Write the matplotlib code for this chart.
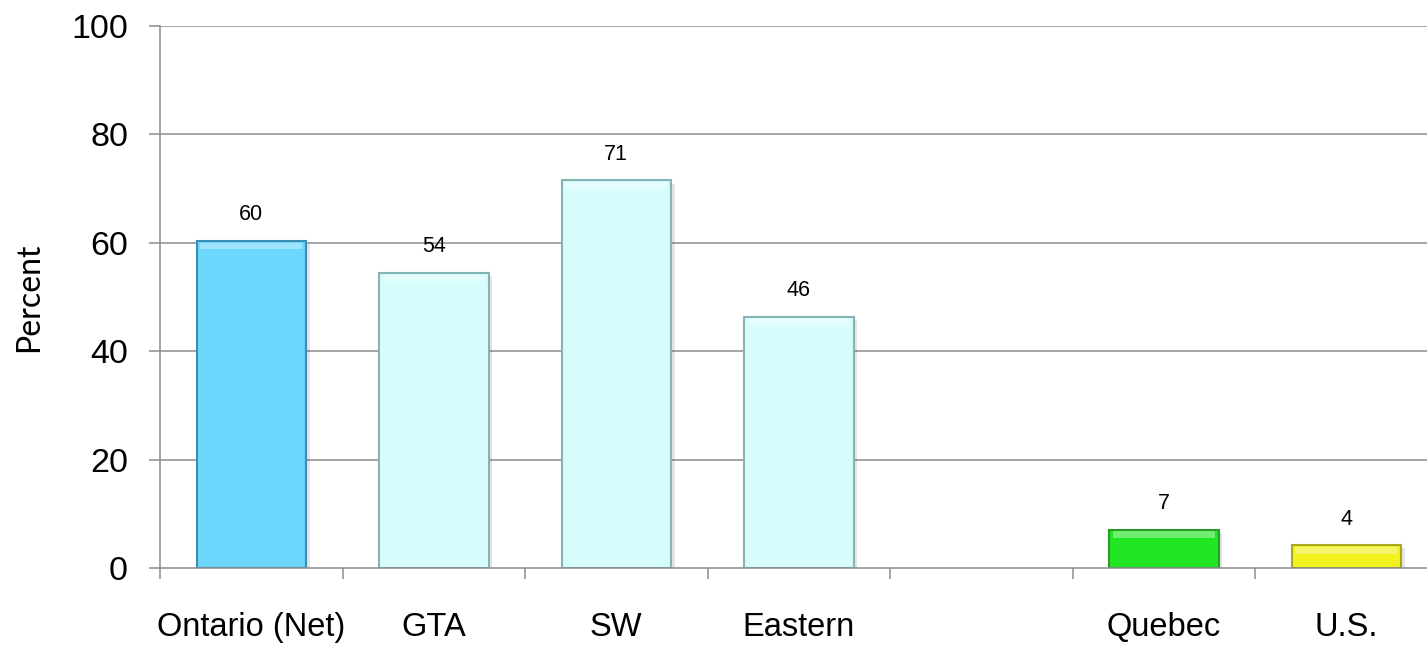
import matplotlib
matplotlib.use("Agg")
import matplotlib.pyplot as plt
import numpy as np

categories = ["Ontario (Net)", "GTA", "SW", "Eastern", "", "Quebec", "U.S."]
values = [60.4, 54.5, 71.5, 46.4, np.nan, 7.1, 4.2]
labels = ["60", "54", "71", "46", "", "7", "4"]
face_colors = ["#6DD6FD", "#D6FCFC", "#D6FCFC", "#D6FCFC", "none", "#22E622", "#F2F21E"]
edge_colors = ["#3B8DB3", "#86B4B4", "#86B4B4", "#86B4B4", "none", "#2A9A2A", "#A8A820"]
yticks = [0, 20, 40, 60, 80, 100]

W, H = 1427, 653
fig = plt.figure(figsize=(W / 100, H / 100), dpi=100)
ax = fig.add_axes([160 / W, (H - 568) / H, 1277.5 / W, 542 / H])

x = np.arange(len(categories))
grid_c = "#8C8C8C"
for yv in yticks[1:]:
    ax.axhline(yv, color=grid_c, lw=1.1, zorder=0)

# shadow
ax.bar(x + 0.02, values, width=0.6, bottom=-0.6, color="#000000", alpha=0.10,
       zorder=1, linewidth=0)
bars = ax.bar(x, values, width=0.6, color=face_colors, edgecolor=edge_colors,
              linewidth=1.5, zorder=2)
# bevel highlight near top
hl = 1.2
vals = np.array(values, dtype=float)
ax.bar(x, np.where(np.isnan(vals), np.nan, hl), width=0.56, bottom=vals - hl - 0.35,
       color="white", alpha=0.35, linewidth=0, zorder=3)

for xi, v, lab in zip(x, values, labels):
    if lab:
        ax.annotate(lab, (xi, v), xytext=(0, 11), textcoords="offset points",
                    ha="center", va="bottom", fontsize=15.5,
                    family="Liberation Sans", color="black")

ax.set_xlim(-0.5, len(categories) - 0.5)
ax.set_ylim(0, 100)
ax.set_yticks(yticks)
ax.set_yticklabels([str(t) for t in yticks], fontsize=24.5, family="Liberation Sans")
ax.set_xticks(x)
ax.set_xticklabels(categories, fontsize=23.5, family="Liberation Sans")
ax.set_xticks(np.arange(len(categories) + 1) - 0.5, minor=True)
ax.tick_params(axis="x", which="major", length=0, pad=32)
ax.tick_params(axis="x", which="minor", length=8, width=1.1, color=grid_c)
ax.tick_params(axis="y", length=8, width=1.1, color=grid_c, pad=15)

for s in ["top", "right"]:
    ax.spines[s].set_visible(False)
for s in ["left", "bottom"]:
    ax.spines[s].set_color(grid_c)
    ax.spines[s].set_linewidth(1.1)
ax.spines["bottom"].set_zorder(4)

ax.set_ylabel("Percent", fontsize=23, family="Lato")
ax.yaxis.set_label_coords(-116 / 1277.5, 0.5)

fig.savefig("out.png", dpi=100)
